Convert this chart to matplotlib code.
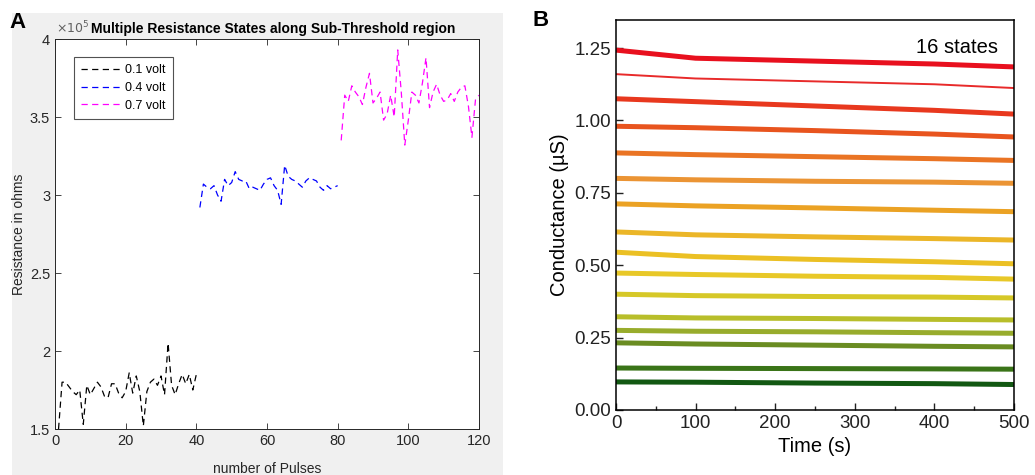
import numpy as np
import matplotlib.pyplot as plt
from matplotlib.patches import Rectangle
from matplotlib.ticker import FuncFormatter, MultipleLocator

plt.rcParams['font.family'] = ['Liberation Sans', 'DejaVu Sans']

#==============================================================================
# data - panel A (resistance, x 1e5 ohms)
#==============================================================================
pulses_01 = np.arange(1, 41)
res_01 = [1.50, 1.80, 1.80, 1.77, 1.74, 1.72, 1.75, 1.53, 1.78, 1.72,
          1.76, 1.80, 1.77, 1.71, 1.70, 1.79, 1.79, 1.73, 1.70, 1.74,
          1.86, 1.73, 1.84, 1.74, 1.52, 1.74, 1.80, 1.82, 1.78, 1.84,
          1.72, 2.05, 1.78, 1.72, 1.79, 1.85, 1.79, 1.85, 1.75, 1.85]

pulses_04 = np.arange(41, 81)
res_04 = [2.92, 3.07, 3.05, 3.04, 3.06, 3.00, 2.96, 3.10, 3.06, 3.08,
          3.15, 3.10, 3.09, 3.09, 3.04, 3.05, 3.04, 3.03, 3.07, 3.10,
          3.11, 3.06, 3.03, 2.94, 3.19, 3.12, 3.10, 3.09, 3.07, 3.05,
          3.09, 3.11, 3.10, 3.09, 3.05, 3.03, 3.06, 3.04, 3.05, 3.06]

pulses_07 = np.arange(81, 121)
res_07 = [3.35, 3.64, 3.60, 3.70, 3.66, 3.63, 3.58, 3.69, 3.78, 3.59,
          3.62, 3.66, 3.48, 3.52, 3.64, 3.50, 3.93, 3.66, 3.32, 3.48,
          3.66, 3.64, 3.59, 3.72, 3.88, 3.56, 3.66, 3.71, 3.64, 3.60,
          3.61, 3.65, 3.60, 3.66, 3.69, 3.70, 3.57, 3.37, 3.61, 3.64]

volt_labels = ['0.1 volt', '0.4 volt', '0.7 volt']

#==============================================================================
# data - panel B (conductance in uS, 16 states)
#==============================================================================
time_s = [0, 100, 250, 400, 500]
states = [
    [1.243, 1.215, 1.205, 1.195, 1.185],
    [1.160, 1.145, 1.135, 1.125, 1.112],
    [1.075, 1.065, 1.050, 1.035, 1.022],
    [0.980, 0.975, 0.965, 0.953, 0.943],
    [0.888, 0.882, 0.875, 0.868, 0.862],
    [0.800, 0.795, 0.790, 0.787, 0.783],
    [0.712, 0.705, 0.698, 0.690, 0.685],
    [0.615, 0.605, 0.598, 0.592, 0.587],
    [0.545, 0.530, 0.520, 0.512, 0.505],
    [0.473, 0.468, 0.462, 0.458, 0.452],
    [0.400, 0.395, 0.392, 0.390, 0.387],
    [0.322, 0.318, 0.316, 0.313, 0.311],
    [0.275, 0.272, 0.270, 0.267, 0.265],
    [0.232, 0.228, 0.224, 0.220, 0.218],
    [0.145, 0.144, 0.143, 0.142, 0.141],
    [0.097, 0.096, 0.093, 0.091, 0.088],
]

#==============================================================================
# styles
#==============================================================================
state_colors = ['#e8101e', '#e82a2a', '#e8381e', '#e8541e', '#ea7424', '#eb9434',
                '#eba224', '#ebb628', '#ebc024', '#e8c828', '#d6c828', '#b8be2a',
                '#98ac2c', '#6a8c22', '#3a7418', '#125812']
state_widths = [3.6, 1.4] + [3.6] * 14

matlab_gray = '#262626'
volt_colors = ['k', '#0000ff', '#ff00ff']

#==============================================================================
# figure
#==============================================================================
fig = plt.figure(figsize=(10.35, 4.75), dpi=100)
fig.patches.append(Rectangle((12 / 1035, 0), 491 / 1035, 462 / 475,
                             transform=fig.transFigure, fc='#f0f0f0', ec='none', zorder=-10))

# ---- panel A
axA = fig.add_axes([55 / 1035, 1 - 429 / 475, 424 / 1035, 390 / 475])
for xs, ys, c, lab in zip([pulses_01, pulses_04, pulses_07], [res_01, res_04, res_07],
                          volt_colors, volt_labels):
    axA.plot(xs, ys, color=c, lw=0.9, dashes=(5, 3.5), label=lab)
axA.set_xlim(0, 120)
axA.set_ylim(1.5, 4)
axA.xaxis.set_major_locator(MultipleLocator(20))
axA.yaxis.set_major_locator(MultipleLocator(0.5))
axA.yaxis.set_major_formatter(FuncFormatter(lambda v, p: '%g' % v))
axA.tick_params(direction='in', top=True, right=True, labelsize=10.5,
                colors=matlab_gray, length=4, width=0.6)
for sp in axA.spines.values():
    sp.set_color(matlab_gray)
    sp.set_linewidth(0.7)
axA.set_xlabel('number of Pulses', fontsize=10, color=matlab_gray, labelpad=10)
axA.set_ylabel('Resistance in ohms', fontsize=10, color=matlab_gray, labelpad=3)
axA.text(0.003, 1.008, r'$\times 10^5$', transform=axA.transAxes, fontsize=9,
         color='#606060', va='bottom', ha='left')
axA.text(0.084, 1.008, 'Multiple Resistance States along Sub-Threshold region',
         transform=axA.transAxes, fontsize=10, fontweight='bold', color='k',
         va='bottom', ha='left')
leg = axA.legend(loc='upper left', bbox_to_anchor=(0.03, 0.97), fontsize=9,
                 handlelength=3.2, fancybox=False, edgecolor=matlab_gray,
                 borderpad=0.6, labelspacing=0.45, handletextpad=0.3)
leg.get_frame().set_linewidth(0.8)

# ---- panel B
axB = fig.add_axes([616 / 1035, 1 - 410 / 475, 398 / 1035, 390 / 475])
for ys, c, w in zip(states, state_colors, state_widths):
    axB.plot(time_s, ys, color=c, lw=w, solid_capstyle='butt')
axB.set_xlim(0, 500)
axB.set_ylim(0, 1.347)
axB.xaxis.set_major_locator(MultipleLocator(100))
axB.xaxis.set_minor_locator(MultipleLocator(50))
axB.yaxis.set_major_locator(MultipleLocator(0.25))
axB.yaxis.set_major_formatter(FuncFormatter(lambda v, p: '%.2f' % v))
axB.tick_params(which='both', direction='in', labelsize=13.5, colors='#222222')
axB.tick_params(which='major', length=5, width=1)
axB.tick_params(which='minor', length=3, width=1)
for sp in axB.spines.values():
    sp.set_linewidth(1.1)
axB.set_xlabel('Time (s)', fontsize=14.5, labelpad=4)
axB.set_ylabel('Conductance (\u00b5S)', fontsize=14.5, labelpad=4)
axB.text(0.96, 0.955, '16 states', transform=axB.transAxes, fontsize=14.5,
         ha='right', va='top')

# panel letters
fig.text(18 / 1035, 1 - 22 / 475, 'A', fontsize=16, fontweight='bold', va='center', ha='center')
fig.text(541 / 1035, 1 - 20 / 475, 'B', fontsize=16, fontweight='bold', va='center', ha='center')

fig.savefig('out.png', dpi=100)
